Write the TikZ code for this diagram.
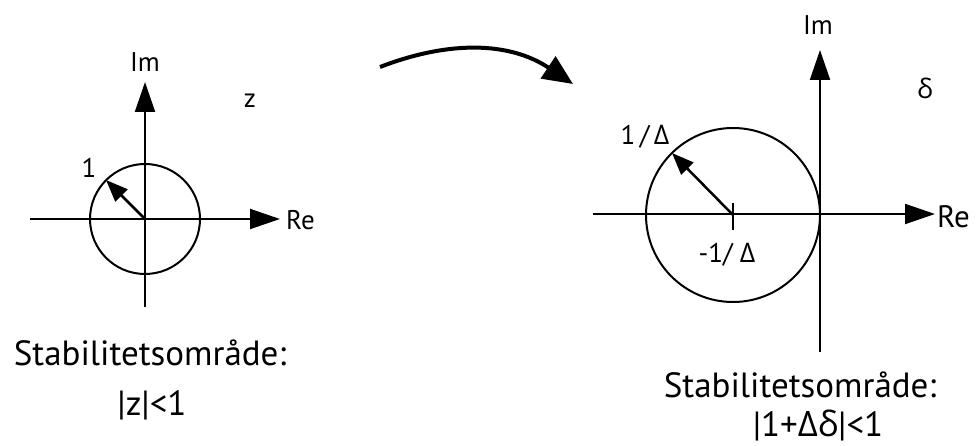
\documentclass[tikz,border=0pt]{standalone}
\usepackage{fontspec}
\setmainfont{PT Sans}
\newfontfamily\grk{Open Sans}
\usetikzlibrary{arrows.meta}
\begin{document}
\begin{tikzpicture}[x=1pt,y=-1pt,
  axis/.style={line width=2pt,-{Triangle[length=30pt,width=20pt]}},
  radarrow/.style={line width=2.5pt,-{Triangle[length=22pt,width=17pt]}},
  circ/.style={line width=2pt},
  lbl/.style={font=\fontsize{27}{30}\selectfont,inner sep=0pt},
  big/.style={font=\fontsize{35}{38}\selectfont,inner sep=0pt}]
\useasboundingbox (0,0) rectangle (976,446);
% left plane
\coordinate (lo) at (145,219);
\coordinate (lxs) at (30,219);
\coordinate (lxe) at (280,219);
\coordinate (lys) at (145,307);
\coordinate (lye) at (145,82);
\draw[circ] (lo) circle[radius=55];
\draw[axis] (lxs) -- (lxe);
\draw[axis] (lys) -- (lye);
\coordinate (lr) at (106,180);
\draw[radarrow] (lo) -- (lr);
\node[lbl] (lim) at (145,62) {Im};
\node[lbl] (lz) at (250,101) {z};
\node[lbl] (lone) at (89,168) {1};
\node[lbl,anchor=west] (lre) at (286,220) {Re};
\node[big] (ls1) at (150,353) {Stabilitetsområde:};
\node[big] (ls2) at (152,405) {|z|<1};
% curved arrow
\coordinate (ca) at (380,67);
\coordinate (cb) at (573,84);
\draw[line width=4pt,-{Triangle[length=30pt,width=26pt]}] (ca) .. controls (450,40) and (510,42) .. (cb);
% right plane
\coordinate (ro) at (733,215);
\coordinate (rxs) at (593,214);
\coordinate (rxe) at (935,214);
\coordinate (rys) at (820,352);
\coordinate (rye) at (820,50);
\draw[circ] (ro) circle[radius=87];
\draw[axis] (rxs) -- (rxe);
\draw[axis] (rys) -- (rye);
\coordinate (rt1) at (733,203);
\coordinate (rt2) at (733,230);
\draw[line width=2.5pt] (rt1) -- (rt2);
\coordinate (rr) at (672,153);
\draw[radarrow] (ro) -- (rr);
\node[lbl] (rim) at (818,25) {Im};
\node[lbl] (rd) at (925,88) {\grk δ};
\node[lbl] (rinv) at (645,137) {1\,/\,{\grk Δ}};
\node[lbl] (rminv) at (727,255) {-1/ {\grk Δ}};
\node[lbl,anchor=west,font=\fontsize{31}{34}\selectfont] (rre) at (937,217) {Re};
\node[big] (rs1) at (800,385) {Stabilitetsområde:};
\node[big] (rs2) at (818,425) {|1+{\grk Δδ}|<1};
\end{tikzpicture}
\end{document}
